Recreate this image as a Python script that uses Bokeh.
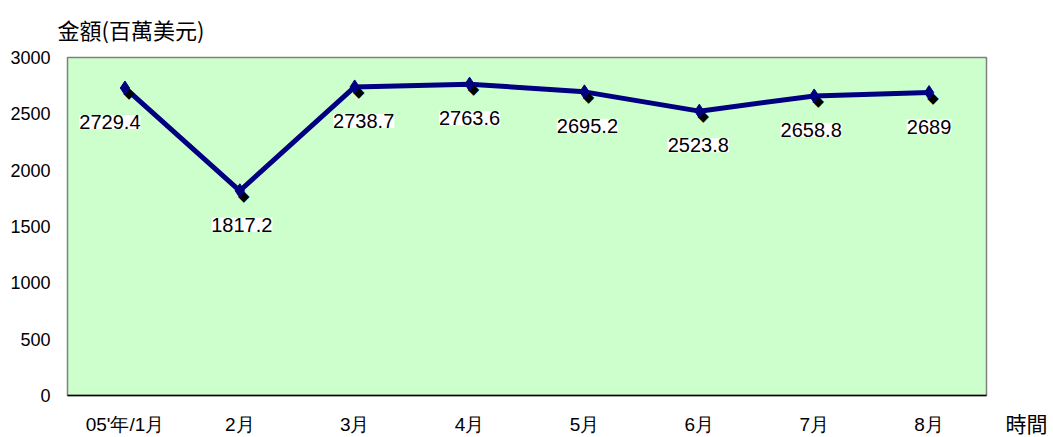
from bokeh.plotting import figure
from bokeh.models import ColumnDataSource, LabelSet, Label, FactorRange, Range1d, FixedTicker
from bokeh.core.properties import value
from bokeh.embed import file_html
from bokeh.resources import INLINE

categories = ["05'年/1月", "2月", "3月", "4月", "5月", "6月", "7月", "8月"]
amounts = [2729.4, 1817.2, 2738.7, 2763.6, 2695.2, 2523.8, 2658.8, 2689]
label_texts = ["2729.4", "1817.2", "2738.7", "2763.6", "2695.2", "2523.8", "2658.8", "2689"]
label_dx = [-15, 2, 9, 0, 3, -1, -3, 0]
y_title = "金額(百萬美元)"
x_title = "時間"

src = ColumnDataSource(dict(x=categories, y=amounts, t=label_texts, dx=label_dx,
                            m=["\u25c6"] * len(categories)))

W, H = 1053, 437
p = figure(width=W, height=H, x_range=FactorRange(*categories, range_padding=0),
           y_range=Range1d(0, 3000), output_backend="svg", toolbar_location=None,
           min_border_left=67, min_border_right=67, min_border_top=57, min_border_bottom=41)
p.background_fill_color = "#CCFFCC"
p.border_fill_color = "white"
p.outline_line_color = "#808080"
p.outline_line_width = 1.5
p.xgrid.grid_line_color = None
p.ygrid.grid_line_color = None

cjk = "Noto Sans CJK TC"
p.title.text = y_title
p.title.align = "left"
p.title.offset = -10
p.title.text_font = cjk
p.title.text_font_size = "22px"
p.title.text_font_style = "normal"
p.title.text_color = "black"
p.title.standoff = 22
p.title.vertical_align = "top"

font = "Liberation Sans"
p.yaxis.ticker = FixedTicker(ticks=[0, 500, 1000, 1500, 2000, 2500, 3000])
for ax in (p.xaxis[0], p.yaxis[0]):
    ax.major_tick_line_color = None
    ax.minor_tick_line_color = None
    ax.major_tick_out = 0
    ax.major_tick_in = 0
    ax.minor_tick_out = 0
    ax.major_label_text_font = font
    ax.major_label_text_color = "black"
p.yaxis.major_label_text_font_size = "18px"
p.xaxis.major_label_text_font_size = "19px"
p.yaxis.axis_line_color = None
p.yaxis.major_label_standoff = 17
p.xaxis.axis_line_color = "black"
p.xaxis.axis_line_width = 1.5
p.xaxis.major_label_standoff = 18

p.line("x", "y", source=src, line_color="#000080", line_width=5)
p.text("x", "y", text="m", source=src, text_color="black", text_font=value("DejaVu Sans"),
       text_font_size="15px", text_align="center", text_baseline="middle",
       x_offset=4, y_offset=5)
p.scatter("x", "y", source=src, marker="diamond", size=14, fill_color="#000080",
          line_color="#000080")

labels = LabelSet(x="x", y="y", text="t", source=src, x_offset="dx", y_offset=-34,
                  text_align="center", text_baseline="middle",
                  text_font=value(font),
                  text_font_size=value("20px"), text_color="black",
                  background_fill_color="white")
p.add_layout(labels)

p.add_layout(Label(x=19, y=-27, x_units="screen", y_units="screen", text=x_title,
                   text_font=cjk, text_font_size="21px", text_baseline="middle",
                   text_align="left", text_color="black"), "right")

open("out.html", "w").write(file_html(p, INLINE))
